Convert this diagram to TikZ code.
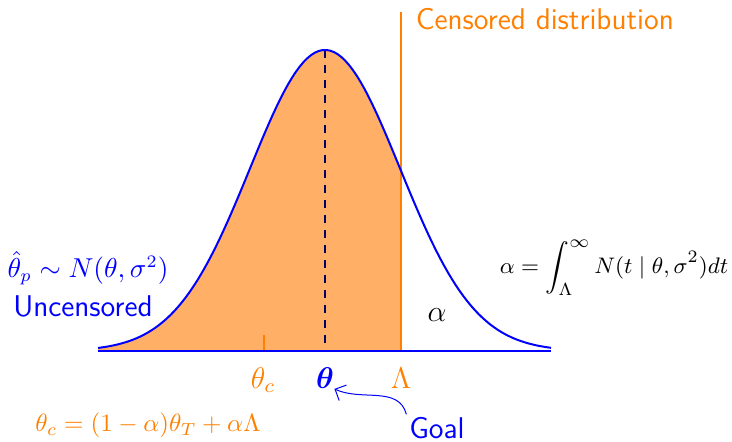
\documentclass[tikz,border=0pt]{standalone}
\usepackage{amsmath}
\usepackage{amssymb}
\usepackage{bm}
\usepackage{xcolor}
\usepackage{tikz}
\usetikzlibrary{arrows.meta, positioning, calc}
\definecolor{censor}{RGB}{255,128,0}
\definecolor{censorfill}{RGB}{255,176,102}
\tikzset{
    curve/.style={draw=blue, line width=0.8pt},
    cutline/.style={draw=censor, line width=0.8pt},
    meanline/.style={draw=blue!40!black, dashed, line width=0.5pt},
    olabel/.style={text=censor, font=\fontsize{11.5pt}{14pt}\selectfont},
    blabel/.style={text=blue, font=\fontsize{11.5pt}{14pt}\selectfont},
    klabel/.style={text=black, font=\fontsize{11.5pt}{14pt}\selectfont},
    goalarrow/.style={-{Straight Barb[length=1.2mm]}, blue, line width=0.4pt},
}
\begin{document}
\begin{tikzpicture}[x=0.4pt, y=-0.4pt]
    \useasboundingbox (0,0) rectangle (732,441);
    % Key points
    \coordinate (left) at (98,351);
    \coordinate (right) at (551,351);
    \coordinate (peak) at (325,50);
    \coordinate (mean) at (325,351);
    \coordinate (cut) at (401,351);
    \coordinate (cuttop) at (401,12);
    \coordinate (ctick) at (264,351);
    \coordinate (ctop) at (264,335);

    % Censored part of the density
    \fill[censorfill] (left) -- plot[domain=98:401, samples=80]
        (\x, {351-301*exp(-0.5*((\x-325)/75)^2)}) -- (cut) -- cycle;
    \draw[cutline, line width=0.5pt] (ctick) -- (ctop);
    \draw[meanline] (peak) -- (mean);
    \draw[cutline] (cut) -- (cuttop);

    % Density and axis
    \draw[curve] plot[domain=98:551, samples=120]
        (\x, {351-301*exp(-0.5*((\x-325)/75)^2)});
    \draw[curve] (left) -- (right);

    % Labels
    \node[olabel, anchor=west, font=\fontsize{12pt}{14pt}\sffamily] (cens) at (407,19) {Censored distribution};
    \node[blabel, inner sep=1pt, font=\fontsize{10.5pt}{14pt}\selectfont] (est) at (88,268) {$\hat{\theta}_p \sim N(\theta,\sigma^2)$};
    \node[blabel, inner sep=1pt, font=\fontsize{12pt}{14pt}\sffamily] (unc) at (83,306) {Uncensored};
    \node[klabel] (alpha) at (437,315) {$\alpha$};
    \node[klabel, font=\fontsize{9.5pt}{12pt}\selectfont] (integral) at (614,268) {$\alpha = \displaystyle\int_{\Lambda}^{\infty} N(t \mid \theta,\sigma^2)dt$};
    \node[olabel] (thetac) at (263,380) {$\theta_c$};
    \node[blabel, inner sep=0pt] (theta) at (325,378) {$\bm{\theta}$};
    \node[olabel] (lambda) at (401,378) {$\Lambda$};
    \node[blabel, inner sep=1pt, font=\fontsize{12pt}{14pt}\sffamily] (goal) at (437,428) {Goal};
    \node[olabel, font=\fontsize{10pt}{12pt}\selectfont] (mix) at (148,425) {$\theta_c = (1-\alpha)\theta_T + \alpha\Lambda$};

    % Goal points at the true mean
    \draw[goalarrow] (goal.north west) to[out=105, in=-25] (theta.south east);
\end{tikzpicture}
\end{document}
